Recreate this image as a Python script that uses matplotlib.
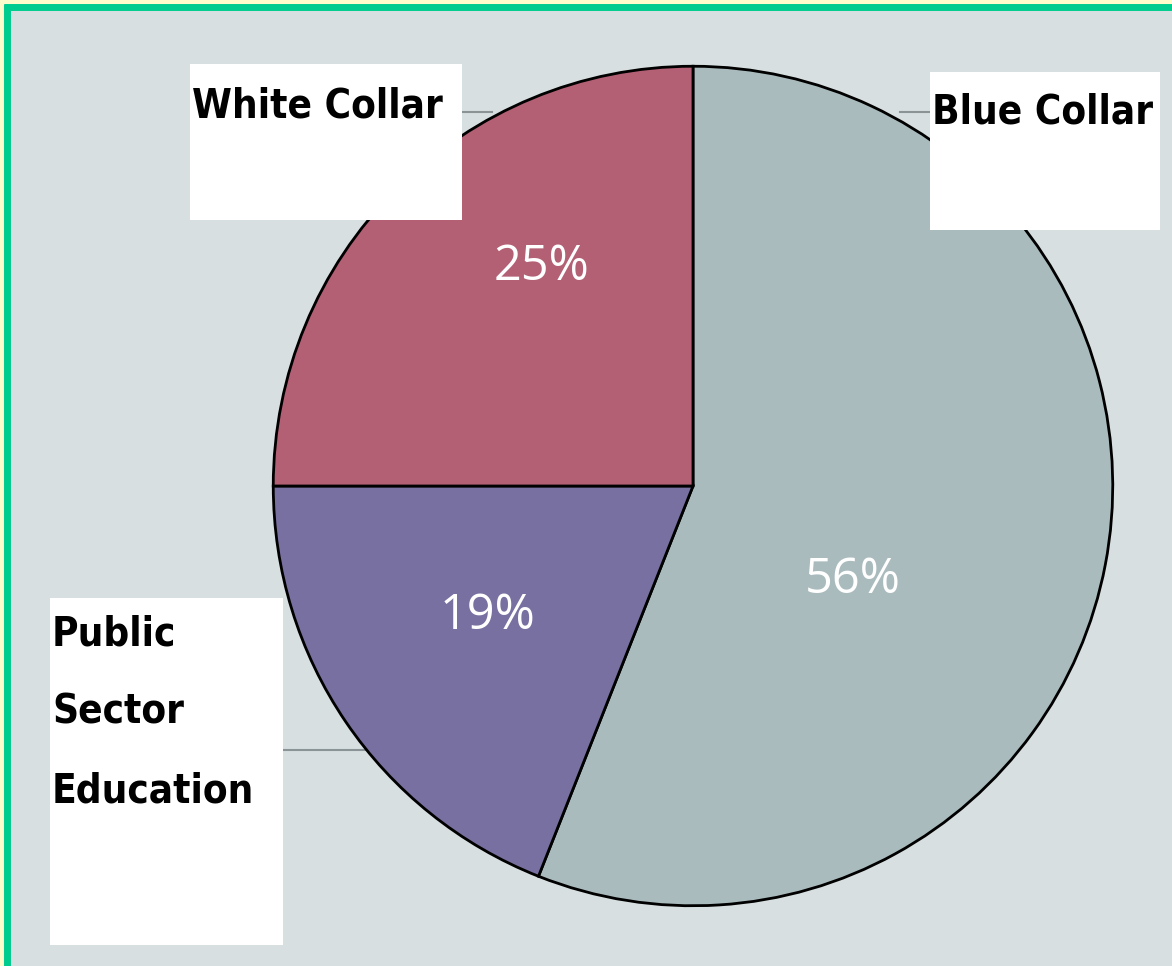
import matplotlib
matplotlib.use("Agg")
import matplotlib.pyplot as plt
from matplotlib.patches import Rectangle

# data
categories = ["Blue Collar", "Public\nSector\nEducation", "White Collar"]
shares = [56, 19, 25]
colors = ["#aabbbe", "#7870a0", "#b36075"]

W, H = 1172, 966
fig = plt.figure(figsize=(W / 100, H / 100), dpi=100)
fig.patch.set_facecolor("#fffccc")

# background axes in pixel coords (y down)
bg = fig.add_axes([0, 0, 1, 1])
bg.set_xlim(0, W)
bg.set_ylim(H, 0)
bg.axis("off")
bg.add_patch(Rectangle((4, 4), W, H, facecolor="#d7dfe0", edgecolor="none"))
bg.plot([7, 7], [4, H], color="#00cc8f", lw=5, solid_capstyle="butt")
bg.plot([4, W], [7, 7], color="#00cc8f", lw=5, solid_capstyle="butt")

# pie
cx, cy, r = 693, 486, 421
pax = fig.add_axes([(cx - r) / W, (H - cy - r) / H, 2 * r / W, 2 * r / H])
wedges, _, autotexts = pax.pie(
    shares, colors=colors, startangle=90, counterclock=False,
    autopct="%d%%", radius=1,
    wedgeprops=dict(edgecolor="black", linewidth=2),
    textprops=dict(color="white", fontsize=35, family="Open Sans"),
)
pax.set_xlim(-1.003, 1.003)
pax.set_ylim(-1.003, 1.003)
pax.set_aspect("equal")

# move percentage labels where the original has them
pct_pos = [(0.38, -0.225), (-0.49, -0.31), (-0.36, 0.52)]
for t, p in zip(autotexts, pct_pos):
    t.set_position(p)
    t.set_ha("center")
    t.set_va("center")

# label boxes and leader lines
boxes = [(930, 72, 230, 158), (50, 598, 233, 347), (190, 64, 272, 156)]
leaders = [((900, 930), (112, 112)), ((283, 365), (750, 750)), ((462, 492), (112, 112))]
text_xy = [(932, 113), (52, 614), (192, 106)]
for (bx, by, bw, bh), (lx, ly), (tx, ty), lab in zip(boxes, leaders, text_xy, categories):
    bg.plot(lx, ly, color="#8a9496", lw=1.5, zorder=1)
    fig.add_artist(Rectangle((bx / W, 1 - (by + bh) / H), bw / W, bh / H,
                             transform=fig.transFigure, facecolor="white",
                             edgecolor="none", zorder=5))
    fig.text(tx / W, 1 - ty / H, lab, ha="left",
             va="top" if "\n" in lab else "center",
             fontsize=29, fontweight="bold", fontstretch="condensed",
             family="DejaVu Sans", linespacing=2.25, zorder=6)

fig.savefig("out.png", dpi=100)
